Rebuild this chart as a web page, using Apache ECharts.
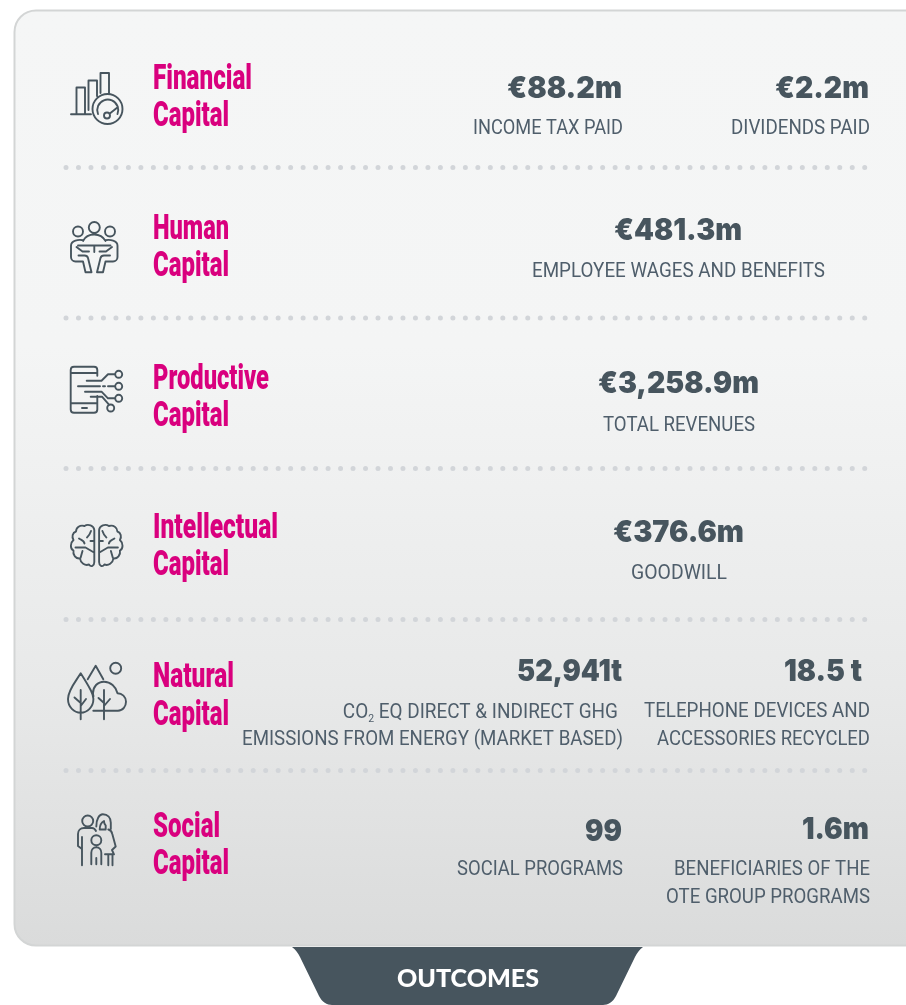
<!DOCTYPE html>
<html><head><meta charset="utf-8">
<style>html,body{margin:0;padding:0;background:#fff}#c{width:906px;height:1005px}</style>
<script src="https://cdn.jsdelivr.net/npm/echarts@6/dist/echarts.min.js"></script>
</head><body><div id="c"></div>
<script>
// ---- content ----
const capitals = ['Financial','Human','Productive','Intellectual','Natural','Social'];
const capitalWord = 'Capital';
const values = ['€88.2m','€2.2m','€481.3m','€3,258.9m','€376.6m','52,941t','18.5 t','99','1.6m'];
const labels = ['INCOME TAX PAID','DIVIDENDS PAID','EMPLOYEE WAGES AND BENEFITS','TOTAL REVENUES','GOODWILL',
  'EMISSIONS FROM ENERGY (MARKET BASED)','TELEPHONE DEVICES AND','ACCESSORIES RECYCLED','SOCIAL PROGRAMS','BENEFICIARIES OF THE','OTE GROUP PROGRAMS'];
const co2Label = ['CO','2',' EQ DIRECT & INDIRECT GHG'];
const tabLabel = 'OUTCOMES';

// ---- layout: [left, right, baseline] ----
const titleBox = [[252,88.5,229,125],[229,238.5,229,275],[269,388,229,425],[278,537.5,229,574.5],[234,686,229,724],[220,836,229,873.5]];
const valueBox = [[507,622,99],[775,869,99],[614,742,241],[598,759,394],[613,744,543],[517,622,682],[784,862,682],[585,622,842],[802,869,840]];
const labelBox = [[473,623,134],[731,870,134],[532,825,277],[603,755,431],[631,727,579],[242,623,745],[644,870,717],[657,870,745],[457,623,875],[674,870,875],[666,870,903]];
const dotRows = [167.4,318,468.6,619.4,770.6];

const INK='#47555e', LABEL='#4f5e6b', PINK='#d9007e', DOT='#d2d5d9';
const ctx=document.createElement('canvas').getContext('2d');
function fit(str,font,target){ctx.font=font;return target/ctx.measureText(str).width;}
function txt(str,family,weight,size,fill,left,right,base,k){
  const font=weight+' '+size+'px "'+family+'"';
  return {type:'text',x:right,y:base-size*k,scaleX:fit(str,font,right-left),z2:10,
    style:{text:str,font:font,fill:fill,align:'right',verticalAlign:'middle'}};
}
const texts=[];
capitals.forEach((c,i)=>{const b=titleBox[i];
  texts.push(txt(c,'Roboto','900',34.5,PINK,153,b[0],b[1],0.23));
  texts.push(txt(capitalWord,'Roboto','900',34.5,PINK,153,b[2],b[3],0.23));
});
values.forEach((v,i)=>{const b=valueBox[i];
  texts.push(txt(v,'Inter','900',30,INK,b[0],b[1],b[2],0.33));
});
labels.forEach((l,i)=>{const b=labelBox[i];
  texts.push(txt(l,'Roboto','400',20,LABEL,b[0],b[1],b[2],0.24));
});
// CO2 label with subscript
const coFont='400 20px "Roboto"';
const coW=280, coScale=fit(co2Label.join(''),coFont,coW);
texts.push({type:'text',x:618,y:712.5,scaleX:coScale,z2:10,
  style:{text:'{a|'+co2Label[0]+'}{s|'+co2Label[1]+'}{a|'+co2Label[2]+'}',align:'right',verticalAlign:'middle',
    rich:{a:{font:coFont,fill:LABEL,lineHeight:24},s:{font:'400 11px "Roboto"',fill:LABEL,verticalAlign:'bottom',lineHeight:24,padding:[13,0,0,0]}}}});
texts.push(txt(tabLabel,'Lato','900',24,'#ffffff',397,539,986,0.28));

// ---- icon outlines ----
const iconPaths=[
 // financial
 'M71 114.3H91M76.5 114V87.5H85V114M88.5 110V80.5H97V96M100.5 93V73H109V93'+
 'M92.5 109a15 15 0 1 0 30 0a15 15 0 1 0 -30 0M98 114a10.5 10.5 0 1 1 19.5 0'+
 'M104 115.5a3 3 0 1 0 6 0a3 3 0 1 0 -6 0M109.5 113.7L118 107',
 // human
 'M73 231.5a5 5 0 1 0 10 0a5 5 0 1 0 -10 0M88.8 227.5a5.5 5.5 0 1 0 11 0a5.5 5.5 0 1 0 -11 0M105 231.5a5 5 0 1 0 10 0a5 5 0 1 0 -10 0'+
 'M83 241c2 -4 6 -6.5 11.3 -6.5s9 2.5 11.3 6.5M78 245.5H110.5M94.3 245.5V252'+
 'M83.5 240.3c-5 -1 -12.5 0 -12.5 5.5V257c0 2.5 2 4.5 4.5 4.5H83L85.5 272.3H91.5L88 258c-.4 -1.5 -2 -2.5 -3.5 -2.5H78.5'+
 'M76.5 247L82.5 251.5H89M105 240.3c5 -1 12.5 0 12.5 5.5V257c0 2.5 -2 4.5 -4.5 4.5H105.5L103 272.3H97L100.5 258c.4 -1.5 2 -2.5 3.5 -2.5H110M112 247L106 251.5H99.5',
 // productive
 'M97.3 375.7V370c0 -2 -1.5 -3.3 -3.3 -3.3H74c-2 0 -3.3 1.5 -3.3 3.3V409.5c0 2 1.5 3.3 3.3 3.3H94c2 0 3.3 -1.5 3.3 -3.3V396'+
 'M71 373H97M71 403.3H97M82 408H87M86.7 380.7H101.5L108 374.3H115.2M78 386.3H100M103 386.3H105M108 386.3H115.2M85 391.7H101.5L108 398.3H115.2M90.7 396.7H102L109 404.7'+
 'M115.2 374.3a3.5 3.5 0 1 0 7 0a3.5 3.5 0 1 0 -7 0M115.2 386.3a3.5 3.5 0 1 0 7 0a3.5 3.5 0 1 0 -7 0M115.2 398.3a3.5 3.5 0 1 0 7 0a3.5 3.5 0 1 0 -7 0M107.2 408a3.5 3.5 0 1 0 7 0a3.5 3.5 0 1 0 -7 0',
 // brain left half (mirrored below)
 'M94.3 530C94 525.5 88 523.5 84.5 526C80 524.5 76 527.5 76 531.5C72.5 532.5 71.5 537 73.5 540C70 543 70 548.5 73.5 550.5C72.5 555 76 559 80 558.5C80.5 563 85 566 89 564.5C91 567.5 94.3 566 94.3 562Z'+
 'M91 531C90 534 89 536 87 537.5M79 538.5C81 540 84 540 84.5 543.5M75.5 547.5H85.5L94 552.5M82.5 551L80.5 558M94.3 541H90.5',
 // natural
 'M80.7 673.3C76 681 68 690 68 699c0 8 6 13.7 12.7 13.7s12.7 -5.7 12.7 -13.7c0 -3 -1 -5.5 -2.5 -8.5C88 685 84 678.5 80.7 673.3Z'+
 'M80.7 690V719.3M80.7 703L74.5 697.5M80.7 706L86 699M87.7 679.3L95.7 665.7L103.3 679.3'+
 'M110.2 668.3a5.5 5.5 0 1 0 11 0a5.5 5.5 0 1 0 -11 0'+
 'M93.3 710.7H118c5 0 8 -4.5 8 -9c0 -5 -4 -8.5 -8.5 -8.5c-1.5 -6.5 -7 -11.5 -13.5 -11.5s-11 5 -11 11.5c0 1 .2 2 .5 3M104 690V719.3M104 703L98.5 698M104 706L110 699',
 // social
 'M82.2 821a5.5 5.5 0 1 0 11 0a5.5 5.5 0 1 0 -11 0M78 846V834c0 -3.5 2.5 -6 6 -6H92c2 0 3 1 4 3M82 865.3V837M78 846L82 849'+
 'M96.3 826.5c0 -7.5 3 -12.2 6.5 -12.2c5 0 8 3.5 8 8.5V829M99.7 829.5c0 -3 1.5 -7 4.3 -8.5c0 1.5 .5 3.5 1.7 4.5V829M99.7 829.5h6M108.3 829.5c2.5 .5 3.5 2 4 4.5L115.7 846.5L112 850L114 854.3H105M108.3 854.3V865.3M112.5 854.3V865.3'+
 'M91.3 840.3a5 5 0 1 0 10 0a5 5 0 1 0 -10 0M91.3 864.3V852.7c0 -3 2 -5.5 5 -5.5s5 2.5 5 5.5V864.3M96.3 858V864.3'
];
const iconMirror=[false,false,false,193.4,false,false];
const cardPath='M36 10.5H1000V945.5H36C24 945.5 14.5 936 14.5 924V32C14.5 20 24 10.5 36 10.5Z';
const tabPath='M292 947H643C639 950 637 953 635 957L616 996C613 1002 608 1005 603 1005H332C327 1005 322 1002 319 996L300 957C298 953 296 950 292 947Z';

const shapes=[];
shapes.push({type:'path',shape:{pathData:cardPath},style:{stroke:'#d3d5d5',lineWidth:2,
  fill:{type:'linear',x:0,y:0,x2:0,y2:1,colorStops:[{offset:0,color:'#f5f6f6'},{offset:.36,color:'#f4f5f5'},{offset:.72,color:'#e8e9e9'},{offset:1,color:'#dadbdb'}]}}});
shapes.push({type:'path',shape:{pathData:tabPath},style:{fill:INK}});
dotRows.forEach(y=>shapes.push({type:'line',shape:{x1:66,y1:y,x2:866,y2:y},
  style:{stroke:DOT,lineWidth:5,lineCap:'round',lineDash:[0.01,12.47],fill:'none'}}));
iconPaths.forEach((p,i)=>{
  const st={stroke:INK,lineWidth:1.9,fill:'none',lineJoin:'round',lineCap:'round'};
  shapes.push({type:'path',shape:{pathData:p},style:st});
  if(iconMirror[i]) shapes.push({type:'path',x:iconMirror[i],scaleX:-1,shape:{pathData:p},style:st});
});
texts.forEach(t=>shapes.push(t));

const chart=echarts.init(document.getElementById('c'),null,{renderer:'canvas',width:906,height:1005});
chart.setOption({
  animation:false,
  backgroundColor:'#ffffff',
  series:[{type:'custom',coordinateSystem:'none',silent:true,z:1,
    data:shapes.map((_,i)=>i),
    renderItem:(params)=>shapes[params.dataIndex]}]
});
</script></body></html>
